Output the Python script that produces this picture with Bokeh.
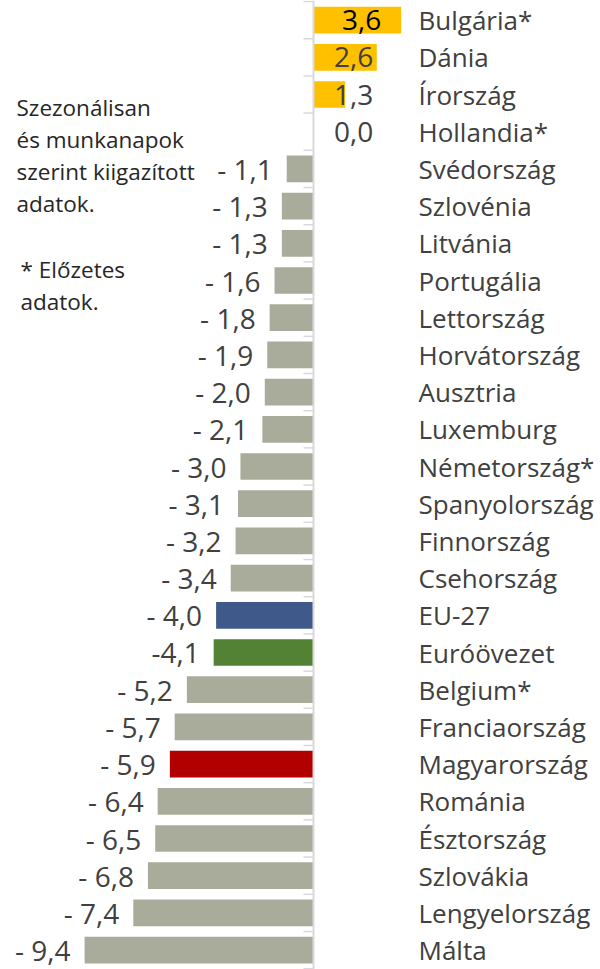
from bokeh.plotting import figure
from bokeh.models import ColumnDataSource, Range1d, Span
from bokeh.core.properties import value
from bokeh.embed import file_html
from bokeh.resources import INLINE

# ---- data ----
countries = ["Bulgária*", "Dánia", "Írország", "Hollandia*", "Svédország", "Szlovénia",
             "Litvánia", "Portugália", "Lettország", "Horvátország", "Ausztria", "Luxemburg",
             "Németország*", "Spanyolország", "Finnország", "Csehország", "EU-27", "Euróövezet",
             "Belgium*", "Franciaország", "Magyarország", "Románia", "Észtország", "Szlovákia",
             "Lengyelország", "Málta"]
values = [3.6, 2.6, 1.3, 0.0, -1.1, -1.3, -1.3, -1.6, -1.8, -1.9, -2.0, -2.1, -3.0, -3.1,
          -3.2, -3.4, -4.0, -4.1, -5.2, -5.7, -5.9, -6.4, -6.5, -6.8, -7.4, -9.4]
value_labels = ["3,6", "2,6", "1,3", "0,0", "- 1,1", "- 1,3", "- 1,3", "- 1,6", "- 1,8",
                "- 1,9", "- 2,0", "- 2,1", "- 3,0", "- 3,1", "- 3,2", "- 3,4", "- 4,0", "-4,1",
                "- 5,2", "- 5,7", "- 5,9", "- 6,4", "- 6,5", "- 6,8", "- 7,4", "- 9,4"]
note_lines = ["Szezonálisan", "és munkanapok", "szerint kiigazított", "adatok."]
note2_lines = ["* Előzetes", "adatok."]

# ---- styling ----
GRAY = "#A9AC9B"
YELLOW = "#FFC000"
special = {"EU-27": "#3F5A8A", "Euróövezet": "#548235", "Magyarország": "#B20000"}
TEXT = "#404040"
FONT = value("Open Sans")

W, H = 600, 969
PX_PER_UNIT = 24.35
ZERO_PX = 313.0
ROW_PX = 37.2
FIRST_ROW_PX = 19.6

x_start = -ZERO_PX / PX_PER_UNIT
x_end = (W - ZERO_PX) / PX_PER_UNIT
Y_TOP = -FIRST_ROW_PX / ROW_PX
y_end = Y_TOP + H / ROW_PX

idx = list(range(len(countries)))
colors = []
for c, v in zip(countries, values):
    if c in special:
        colors.append(special[c])
    elif v > 0:
        colors.append(YELLOW)
    else:
        colors.append(GRAY)

neg = [i for i, v in enumerate(values) if v < 0]
pos = [i for i, v in enumerate(values) if v >= 0]

src = ColumnDataSource(dict(y=idx, v=values, c=colors, name=countries))
neg_src = ColumnDataSource(dict(y=[idx[i] for i in neg], x=[values[i] for i in neg],
                                t=[value_labels[i] for i in neg]))
pos_src = ColumnDataSource(dict(y=[idx[i] for i in pos],
                                x=[max(1.65, values[i] * 0.55) for i in pos],
                                t=[value_labels[i] for i in pos],
                                col=["#000000" if values[i] == max(values) else TEXT for i in pos]))

p = figure(width=W, height=H, output_backend="svg", toolbar_location=None,
           x_range=Range1d(x_start, x_end), y_range=Range1d(y_end, Y_TOP),
           min_border=0, outline_line_color=None, background_fill_color="white",
           border_fill_color="white")
p.axis.visible = False
p.grid.visible = False

p.hbar(y="y", left=0, right="v", height=0.718, color="c", source=src, line_color=None)

# zero axis with category tick marks
p.add_layout(Span(location=0, dimension="height", line_color="#D9D9D9", line_width=2))
tick_len = 10 / PX_PER_UNIT
bounds = [i - 0.5 for i in range(len(countries) + 1)]
p.segment(x0=[-tick_len] * len(bounds), x1=[0] * len(bounds), y0=bounds, y1=bounds,
          line_color="#D9D9D9", line_width=1.5)

# value labels
p.text(x="x", y="y", text="t", source=neg_src, text_align="right", text_baseline="middle",
       x_offset=-14, text_font=FONT, text_font_size="28px", text_color=TEXT)
p.text(x="x", y="y", text="t", source=pos_src, text_align="center", text_baseline="middle",
       text_font=FONT, text_font_size="28px", text_color="col")

# country labels
label_x = (418 - ZERO_PX) / PX_PER_UNIT
p.text(x=[label_x] * len(countries), y=idx, text=countries, text_align="left",
       text_baseline="middle", text_font=FONT, text_font_size="26px", text_color=TEXT)

# notes
note_rows = [2.34, 3.22, 4.08, 4.94]
p.text(x=[(16 - ZERO_PX) / PX_PER_UNIT] * 4, y=note_rows, text=note_lines,
       text_align="left", text_baseline="middle", text_font=FONT,
       text_font_size="22.5px", text_color="#262626")
note2_rows = [6.70, 7.56]
p.text(x=[(20 - ZERO_PX) / PX_PER_UNIT] * 2, y=note2_rows, text=note2_lines,
       text_align="left", text_baseline="middle", text_font=FONT,
       text_font_size="22.5px", text_color="#262626")

open("out.html", "w").write(file_html(p, INLINE))
